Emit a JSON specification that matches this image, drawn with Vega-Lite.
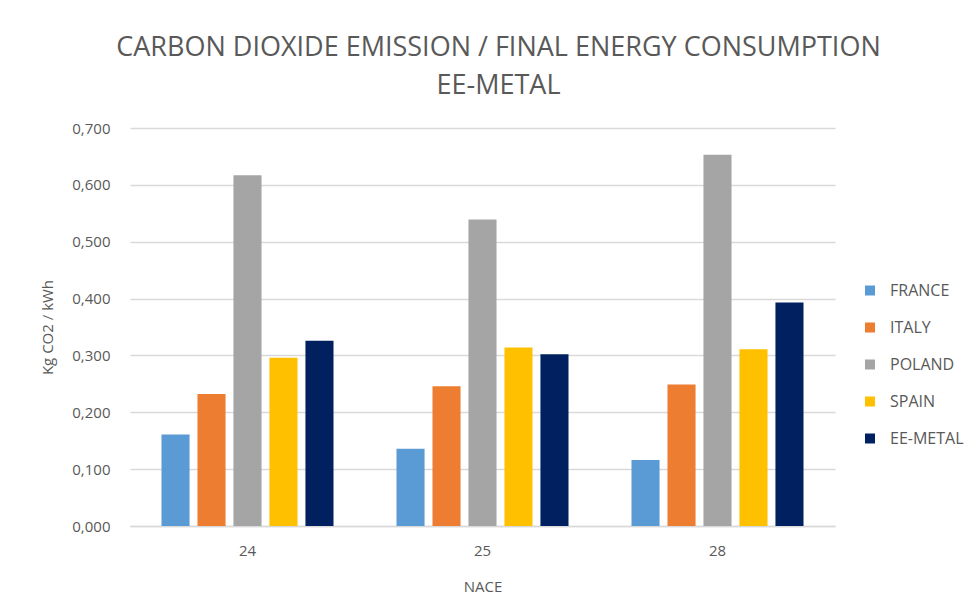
{
  "$schema": "https://vega.github.io/schema/vega-lite/v6.json",
  "width": 705,
  "height": 398,
  "autosize": {"type": "none"},
  "padding": {"left": 130, "top": 128, "right": 144, "bottom": 89},
  "background": "white",
  "title": {
    "text": ["CARBON DIOXIDE EMISSION / FINAL ENERGY CONSUMPTION", "EE-METAL"],
    "anchor": "middle",
    "frame": "group",
    "dx": 16,
    "offset": 21,
    "font": "Open Sans",
    "fontSize": 27,
    "fontWeight": "normal",
    "color": "#595959",
    "lineHeight": 38
  },
  "data": {
    "values": [
      {"nace": "24", "country": "FRANCE", "value": 0.161},
      {"nace": "24", "country": "ITALY", "value": 0.232},
      {"nace": "24", "country": "POLAND", "value": 0.617},
      {"nace": "24", "country": "SPAIN", "value": 0.296},
      {"nace": "24", "country": "EE-METAL", "value": 0.326},
      {"nace": "25", "country": "FRANCE", "value": 0.136},
      {"nace": "25", "country": "ITALY", "value": 0.246},
      {"nace": "25", "country": "POLAND", "value": 0.539},
      {"nace": "25", "country": "SPAIN", "value": 0.314},
      {"nace": "25", "country": "EE-METAL", "value": 0.302},
      {"nace": "28", "country": "FRANCE", "value": 0.116},
      {"nace": "28", "country": "ITALY", "value": 0.249},
      {"nace": "28", "country": "POLAND", "value": 0.653},
      {"nace": "28", "country": "SPAIN", "value": 0.311},
      {"nace": "28", "country": "EE-METAL", "value": 0.393}
    ]
  },
  "mark": {"type": "bar"},
  "encoding": {
    "x": {
      "field": "nace",
      "type": "nominal",
      "scale": {"paddingInner": 0, "paddingOuter": 0},
      "axis": {
        "title": "NACE",
        "labelAngle": 0,
        "ticks": false,
        "domain": true,
        "domainColor": "#d9d9d9",
        "domainWidth": 1.3,
        "labelPadding": 17,
        "titlePadding": 21
      }
    },
    "xOffset": {
      "field": "country",
      "type": "nominal",
      "sort": ["FRANCE", "ITALY", "POLAND", "SPAIN", "EE-METAL"],
      "scale": {"paddingInner": 0.22, "paddingOuter": 0.875}
    },
    "y": {
      "field": "value",
      "type": "quantitative",
      "scale": {"domain": [0, 0.7], "nice": false},
      "axis": {
        "title": "Kg CO2 / kWh",
        "format": ".3f",
        "values": [0, 0.1, 0.2, 0.3, 0.4, 0.5, 0.6, 0.7],
        "labelOverlap": false,
        "ticks": false,
        "domain": false,
        "labelPadding": 20,
        "titlePadding": 16,
        "grid": true,
        "gridColor": "#d9d9d9",
        "gridWidth": 1.3
      }
    },
    "color": {
      "field": "country",
      "type": "nominal",
      "sort": ["FRANCE", "ITALY", "POLAND", "SPAIN", "EE-METAL"],
      "scale": {
        "domain": ["FRANCE", "ITALY", "POLAND", "SPAIN", "EE-METAL"],
        "range": ["#5B9BD5", "#ED7D31", "#A5A5A5", "#FFC000", "#002060"]
      },
      "legend": {
        "title": null,
        "orient": "none",
        "legendX": 732,
        "legendY": 154.5,
        "symbolType": "square",
        "symbolSize": 100,
        "symbolStrokeWidth": 0,
        "labelFontSize": 16,
        "labelFont": "Open Sans",
        "labelColor": "#595959",
        "labelOffset": 12,
        "rowPadding": 21
      }
    }
  },
  "config": {
    "locale": {
      "number": {"decimal": ",", "thousands": ".", "grouping": [3], "currency": ["", " €"]}
    },
    "view": {"stroke": null},
    "axis": {
      "labelFont": "Open Sans",
      "titleFont": "Open Sans",
      "labelFontSize": 15,
      "titleFontSize": 15,
      "labelColor": "#595959",
      "titleColor": "#595959",
      "titleFontWeight": "normal"
    }
  }
}
